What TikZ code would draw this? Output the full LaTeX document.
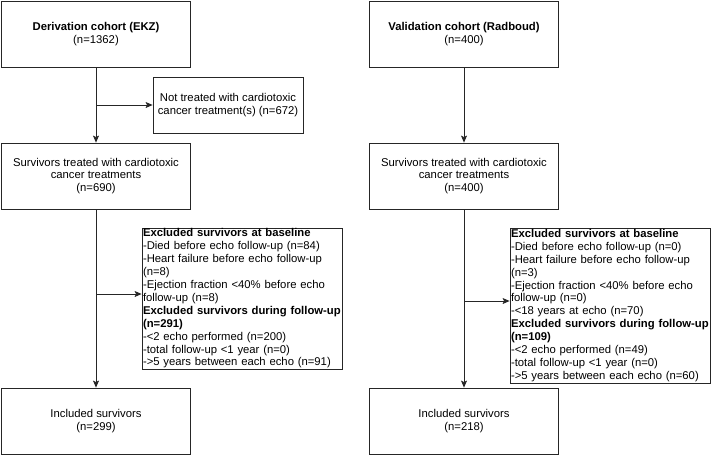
\documentclass[tikz,border=0pt]{standalone}
\usepackage{fontspec}
\setmainfont{Liberation Sans}
\usetikzlibrary{arrows.meta}
\tikzset{
  box/.style={draw=black!85, line width=0.8pt, rectangle, align=center, inner sep=2pt,
    font=\fontsize{11.3}{12.9}\selectfont},
  mainbox/.style={box, minimum width=189pt, minimum height=66pt},
  exbox/.style={box, text width=198pt, align=left, inner xsep=1pt, inner ysep=0pt},
  arr/.style={draw=black!85, line width=0.8pt, -{Stealth[length=7pt,width=6pt,inset=1.5pt]}},
}
\begin{document}
\begin{tikzpicture}[x=1pt,y=-1pt]
\useasboundingbox (0,0) rectangle (711,456);
% left column
\node[mainbox] (d1) at (96,34.5) {\textbf{Derivation cohort (EKZ)}\\(n=1362)};
\node[box, minimum width=150pt, minimum height=56pt] (nt) at (228,105) {Not treated with cardiotoxic\\cancer treatment(s) (n=672)};
\node[mainbox] (d2) at (96,176) {Survivors treated with cardiotoxic\\cancer treatments\\(n=690)};
\node[exbox, minimum height=141pt] (dx) at (242,298.5) {\textbf{Excluded survivors at baseline}\\-Died before echo follow-up (n=84)\\-Heart failure before echo follow-up\\(n=8)\\-Ejection fraction {<}40\% before echo\\follow-up (n=8)\\\mbox{\textbf{Excluded survivors during follow-up}}\\\textbf{(n=291)}\\-{<}2 echo performed (n=200)\\-total follow-up {<}1 year (n=0)\\\mbox{-{>}5 years between each echo (n=91)}};
\node[mainbox] (d3) at (96,421) {Included survivors\\(n=299)};
% right column
\node[mainbox] (v1) at (464,34.5) {\textbf{Validation cohort (Radboud)}\\(n=400)};
\node[mainbox] (v2) at (464,176) {Survivors treated with cardiotoxic\\cancer treatments\\(n=400)};
\node[exbox, minimum height=155pt] (vx) at (610,305.5) {\textbf{Excluded survivors at baseline}\\-Died before echo follow-up (n=0)\\-Heart failure before echo follow-up\\(n=3)\\-Ejection fraction {<}40\% before echo\\follow-up (n=0)\\-{<}18 years at echo (n=70)\\\mbox{\textbf{Excluded survivors during follow-up}}\\\textbf{(n=109)}\\-{<}2 echo performed (n=49)\\-total follow-up {<}1 year (n=0)\\\mbox{-{>}5 years between each echo (n=60)}};
\node[mainbox] (v3) at (464,421) {Included survivors\\(n=218)};
% arrow targets
\coordinate (dxin) at ([yshift=4.5pt]dx.west);
\coordinate (vxin) at ([yshift=4.5pt]vx.west);
% connectors
\draw[arr] (d1.south) -- (d2.north);
\draw[arr] (d1.south |- nt.west) -- (nt.west);
\draw[arr] (d2.south) -- (d3.north);
\draw[arr] (d2.south |- dxin) -- (dxin);
\draw[arr] (v1.south) -- (v2.north);
\draw[arr] (v2.south) -- (v3.north);
\draw[arr] (v2.south |- vxin) -- (vxin);
\end{tikzpicture}
\end{document}
